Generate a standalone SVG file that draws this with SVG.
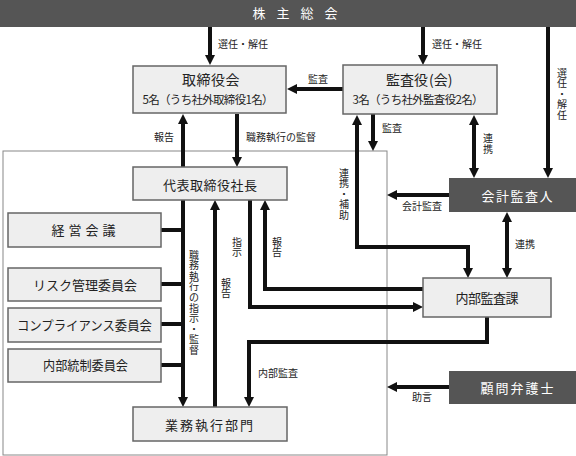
<svg xmlns="http://www.w3.org/2000/svg" width="576" height="456" viewBox="0 0 576 456">
<style>
text{font-family:"Noto Sans CJK JP","Noto Sans",sans-serif;fill:#222}
.box{fill:#eeeeee;stroke:#666;stroke-width:1.5}
.dark{fill:#555555}
.wt{fill:#ffffff}
.t13{font-size:13px}
.t14{font-size:14px}
.t11{font-size:11.5px}
.lbl{font-size:10px}
.c{text-anchor:middle}
.ln{fill:none;stroke:#111;stroke-width:4;stroke-linejoin:miter}
.frame{fill:none;stroke:#888;stroke-width:1}
</style>
<defs>
<marker id="ah" viewBox="0 0 10 10" refX="3" refY="5" markerWidth="10" markerHeight="10" markerUnits="userSpaceOnUse" orient="auto-start-reverse">
<path d="M0,0 L10,5 L0,10 z" fill="#111"/>
</marker>
</defs>
<rect width="576" height="456" fill="#ffffff"/>
<rect class="frame" x="3" y="151" width="384" height="304"/>

<g id="connectors">
<path class="ln" d="M210,27 V58" marker-end="url(#ah)"/>
<path class="ln" d="M423,27 V58" marker-end="url(#ah)"/>
<path class="ln" d="M548,27 V171" marker-end="url(#ah)"/>
<path class="ln" d="M343,89 H294" marker-end="url(#ah)"/>
<path class="ln" d="M183,167 V121" marker-end="url(#ah)"/>
<path class="ln" d="M237,114 V160" marker-end="url(#ah)"/>
<path class="ln" d="M373,114 V144" marker-end="url(#ah)"/>
<path class="ln" d="M474,122 V171" marker-start="url(#ah)" marker-end="url(#ah)"/>
<path class="ln" d="M357,122 V247 H468 V271" marker-start="url(#ah)" marker-end="url(#ah)"/>
<path class="ln" d="M449,195 H394" marker-end="url(#ah)"/>
<path class="ln" d="M507,219 V271" marker-start="url(#ah)" marker-end="url(#ah)"/>
<path class="ln" d="M449,387 H394" marker-end="url(#ah)"/>
<path class="ln" d="M161,230 H183 M161,284 H183 M161,324 H183 M161,365 H183"/>
<path class="ln" d="M183,200 V400" marker-end="url(#ah)"/>
<path class="ln" d="M215,407 V207" marker-end="url(#ah)"/>
<path class="ln" d="M250,200 V307 H416" marker-end="url(#ah)"/>
<path class="ln" d="M423,289 H265 V207" marker-end="url(#ah)"/>
<path class="ln" d="M487,317 V342 H249 V400" marker-end="url(#ah)"/>
</g>

<g id="labels">
<text class="lbl" x="218" y="48">選任・解任</text>
<text class="lbl" x="432" y="48">選任・解任</text>
<text class="lbl c" x="562 562 562 562 562" y="76.5 87 97.5 108 118.5">選任・解任</text>
<text class="lbl c" x="318" y="83">監査</text>
<text class="lbl c" x="164" y="141">報告</text>
<text class="lbl" x="246" y="141">職務執行の監督</text>
<text class="lbl" x="382" y="132">監査</text>
<text class="lbl c" x="488 488" y="142 152.5">連携</text>
<text class="lbl c" x="344 344 344 344 344" y="176.5 187 197.5 208 218.5">連携・補助</text>
<text class="lbl c" x="422" y="210">会計監査</text>
<text class="lbl c" x="525" y="248">連携</text>
<text class="lbl c" x="422" y="401">助言</text>
<text class="lbl c" x="278" y="377">内部監査</text>
<text class="lbl c" x="237 237" y="245.5 256">指示</text>
<text class="lbl c" x="277 277" y="245.5 256">報告</text>
<text class="lbl c" x="226 226" y="286.5 297">報告</text>
<text class="lbl c" x="194 194 194 194 194 194 194 194 194 194" y="258.5 269.1 279.7 290.3 300.9 311.5 322.1 332.7 343.3 353.9">職務執行の指示・監督</text>
</g>

<g id="shareholders">
<rect class="dark" x="0" y="0" width="576" height="27"/>
<text class="t13 c wt" x="259 283 307 331" y="18">株主総会</text>
</g>

<g id="board">
<rect class="box" x="133" y="66" width="153" height="47"/>
<text class="t14 c" x="189 203.5 218 232.5" y="85">取締役会</text>
<text class="t11 c" x="208" y="104" textLength="131" lengthAdjust="spacing">5名（うち社外取締役1名）</text>
</g>

<g id="auditors">
<rect class="box" x="343" y="65" width="154" height="49"/>
<text class="t14" y="85"><tspan class="c" x="393">監</tspan><tspan class="c" x="407">査</tspan><tspan class="c" x="421">役</tspan><tspan x="429">(会)</tspan></text>
<text class="t11 c" x="418" y="104" textLength="131" lengthAdjust="spacing">3名（うち社外監査役2名）</text>
</g>

<g id="president">
<rect class="box" x="133" y="167" width="154" height="33"/>
<text class="t13 c" x="210" y="189.5" textLength="94" lengthAdjust="spacing">代表取締役社長</text>
</g>

<g id="mgmt-meeting">
<rect class="box" x="8" y="213" width="153" height="34"/>
<text class="t13 c" x="58 75 92 109" y="234.5">経営会議</text>
</g>

<g id="risk">
<rect class="box" x="8" y="268" width="153" height="33"/>
<text class="t13 c" x="85" y="289.5" textLength="104" lengthAdjust="spacing">リスク管理委員会</text>
</g>

<g id="compliance">
<rect class="box" x="8" y="308" width="153" height="34"/>
<text class="t13 c" x="84.5" y="329.5" textLength="135" lengthAdjust="spacingAndGlyphs">コンプライアンス委員会</text>
</g>

<g id="internal-control">
<rect class="box" x="8" y="349" width="153" height="33"/>
<text class="t13 c" x="85.5" y="370" textLength="85" lengthAdjust="spacingAndGlyphs">内部統制委員会</text>
</g>

<g id="operations">
<rect class="box" x="133" y="407" width="154" height="34"/>
<text class="t13 c" x="209" y="429.5" textLength="88" lengthAdjust="spacing">業務執行部門</text>
</g>

<g id="internal-audit">
<rect class="box" x="423" y="278" width="128" height="39"/>
<text class="t13 c" x="487" y="302.5" textLength="63" lengthAdjust="spacing">内部監査課</text>
</g>

<g id="accounting-auditor">
<rect class="dark" x="449" y="178" width="127" height="34"/>
<text class="t13 c wt" x="517" y="200.5" textLength="71" lengthAdjust="spacing">会計監査人</text>
</g>

<g id="lawyer">
<rect class="dark" x="449" y="371" width="127" height="33"/>
<text class="t13 c wt" x="517" y="392.5" textLength="73" lengthAdjust="spacing">顧問弁護士</text>
</g>
</svg>
